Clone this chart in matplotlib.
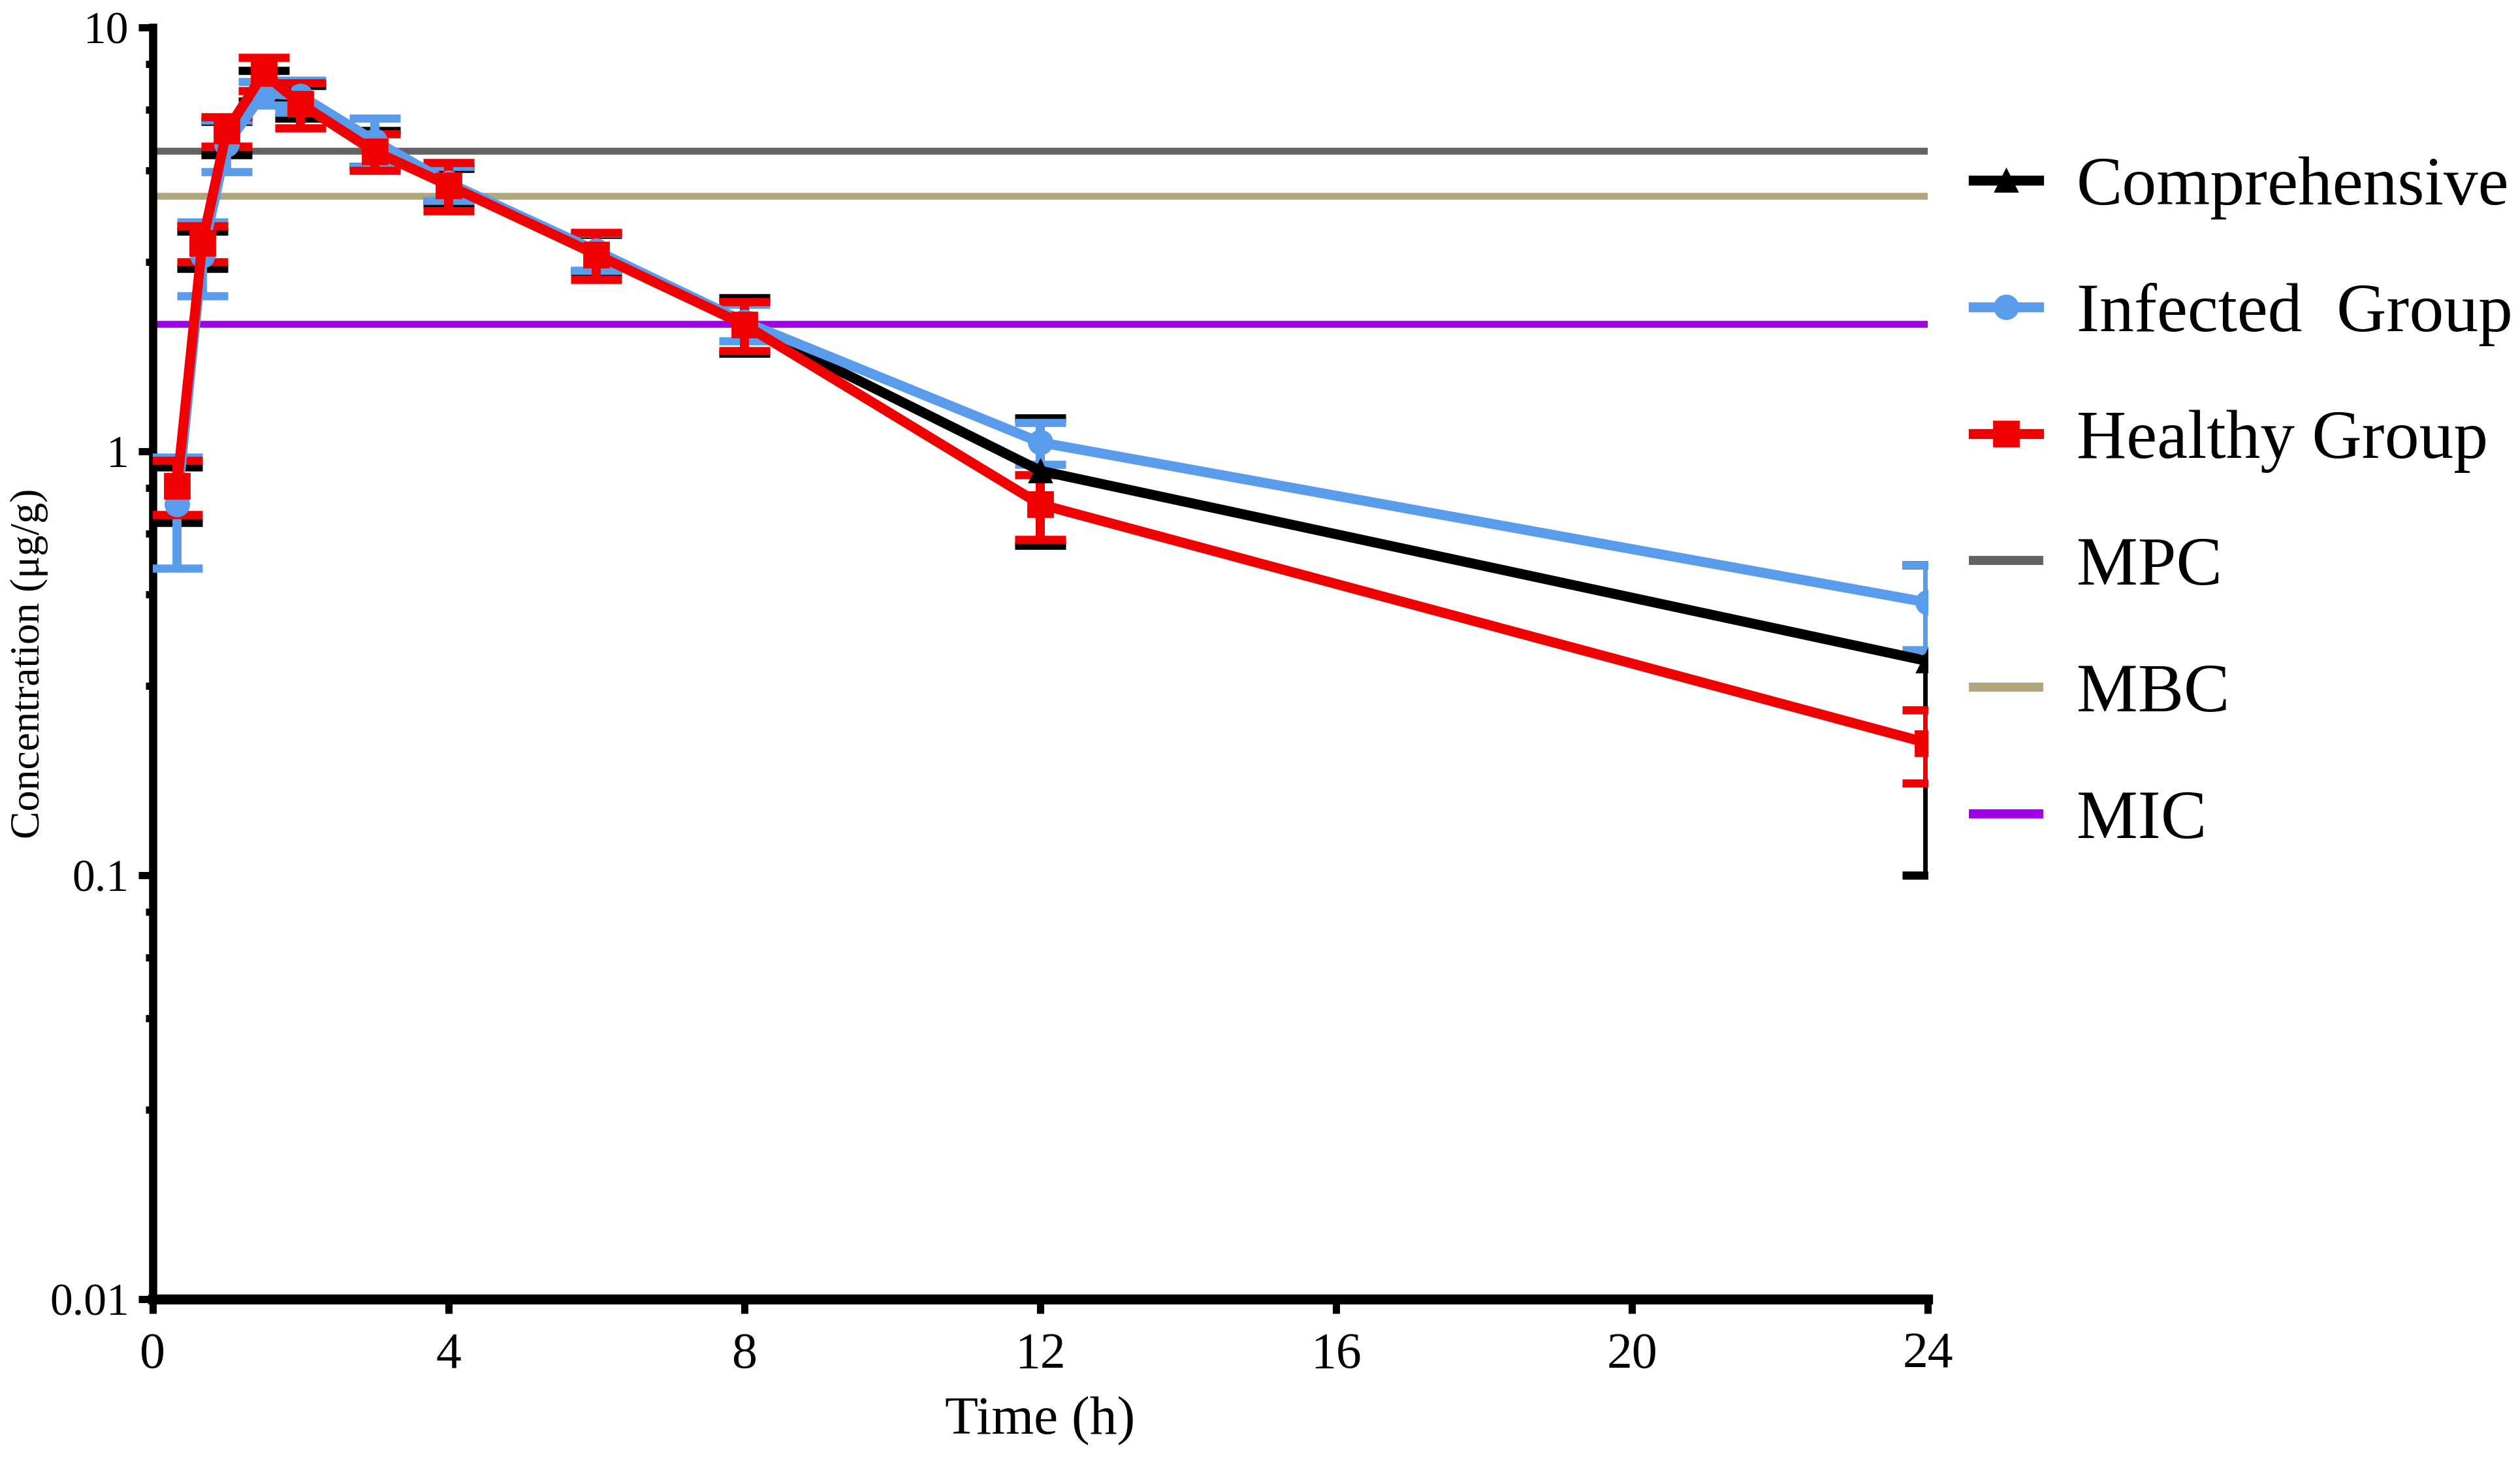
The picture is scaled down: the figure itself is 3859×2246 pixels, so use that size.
import numpy as np
import matplotlib
matplotlib.use("Agg")
import matplotlib.pyplot as plt
from matplotlib.ticker import FixedLocator, FixedFormatter

plt.rcParams['font.family'] = ['Liberation Serif', 'DejaVu Serif']

# sampling times (h)
time_h = [0.33, 0.67, 1, 1.5, 2, 3, 4, 6, 8, 12, 24]

# mean and SD, ug/g
comp_mean = [0.80, 3.00, 5.50, 7.30, 6.70, 5.20, 4.25, 2.95, 2.00, 0.90, 0.32]
comp_sd = [0.12, 0.30, 0.50, 0.60, 0.60, 0.50, 0.40, 0.30, 0.30, 0.30, 0.22]
inf_mean = [0.75, 2.90, 5.30, 7.00, 6.90, 5.40, 4.30, 2.97, 2.02, 1.05, 0.44]
inf_sd = [0.22, 0.57, 0.74, 0.45, 0.60, 0.70, 0.40, 0.30, 0.20, 0.12, 0.10]
hea_mean = [0.83, 3.10, 5.70, 7.80, 6.60, 5.10, 4.24, 2.91, 1.99, 0.75, 0.205]
hea_sd = [0.12, 0.30, 0.45, 0.70, 0.80, 0.50, 0.55, 0.37, 0.26, 0.13, 0.04]

# reference levels
ref_names = ["MPC", "MBC", "MIC"]
ref_values = [5.12, 4.0, 2.0]
ref_colors = ["#636363", "#b1a77c", "#a000e6"]

series = [
    ("Comprehensive", comp_mean, comp_sd, "black", "^", 12),
    ("Infected  Group", inf_mean, inf_sd, "#5a9cec", "o", 13),
    ("Healthy Group", hea_mean, hea_sd, "#f00000", "s", 14),
]

fig = plt.figure(figsize=(19.295, 11.23), dpi=200)
ax = fig.add_axes([0.0606, 0.1144, 0.7044, 0.8669])

for val, col in zip(ref_values, ref_colors):
    ax.hlines(val, 0, 24, color=col, lw=3.8, zorder=1)

handles = []
for name, m, sd, col, mk, ms in series:
    ax.errorbar(time_h, m, yerr=sd, color=col, marker=mk, ms=ms, lw=5.5,
                elinewidth=5, capsize=14, capthick=4.5, zorder=3)
    handles.append(plt.Line2D([], [], color=col, marker=mk, ms=ms, lw=5.5,
                              label=name))
for name, col in zip(ref_names, ref_colors):
    handles.append(plt.Line2D([], [], color=col, lw=5, label=name))

ax.set_yscale("log")
ax.set_xlim(0, 24)
ax.set_ylim(0.01, 10)
ax.set_xticks([0, 4, 8, 12, 16, 20, 24])
ax.yaxis.set_major_locator(FixedLocator([0.01, 0.1, 1, 10]))
ax.yaxis.set_major_formatter(FixedFormatter(["0.01", "0.1", "1", "10"]))
minor = [f * 10.0 ** k for k in (-2, -1, 0) for f in (2.8, 4.6, 6.4, 8.2)]
ax.yaxis.set_minor_locator(FixedLocator(minor))
ax.yaxis.set_minor_formatter(FixedFormatter([""] * len(minor)))

for s in ["top", "right"]:
    ax.spines[s].set_visible(False)
ax.spines["left"].set_linewidth(4.5)
ax.spines["bottom"].set_linewidth(5.5)
ax.tick_params(axis="both", which="major", direction="out", length=8,
               width=4)
ax.tick_params(axis="x", pad=10, labelsize=28)
ax.tick_params(axis="y", pad=5, labelsize=25)
ax.tick_params(axis="y", which="minor", direction="out", length=4, width=4)

ax.set_xlabel("Time (h)", fontsize=30, labelpad=10)
ax.set_ylabel("Concentration (μg/g)", fontsize=23)
ax.yaxis.set_label_coords(-0.0588, 0.5)

fig.legend(handles=handles, loc="center left",
           bbox_to_anchor=(0.783, 0.656), frameon=False, fontsize=38,
           handlelength=0.95, handletextpad=0.55, labelspacing=0.92,
           borderpad=0, borderaxespad=0)

fig.savefig("out.png", dpi=200)
